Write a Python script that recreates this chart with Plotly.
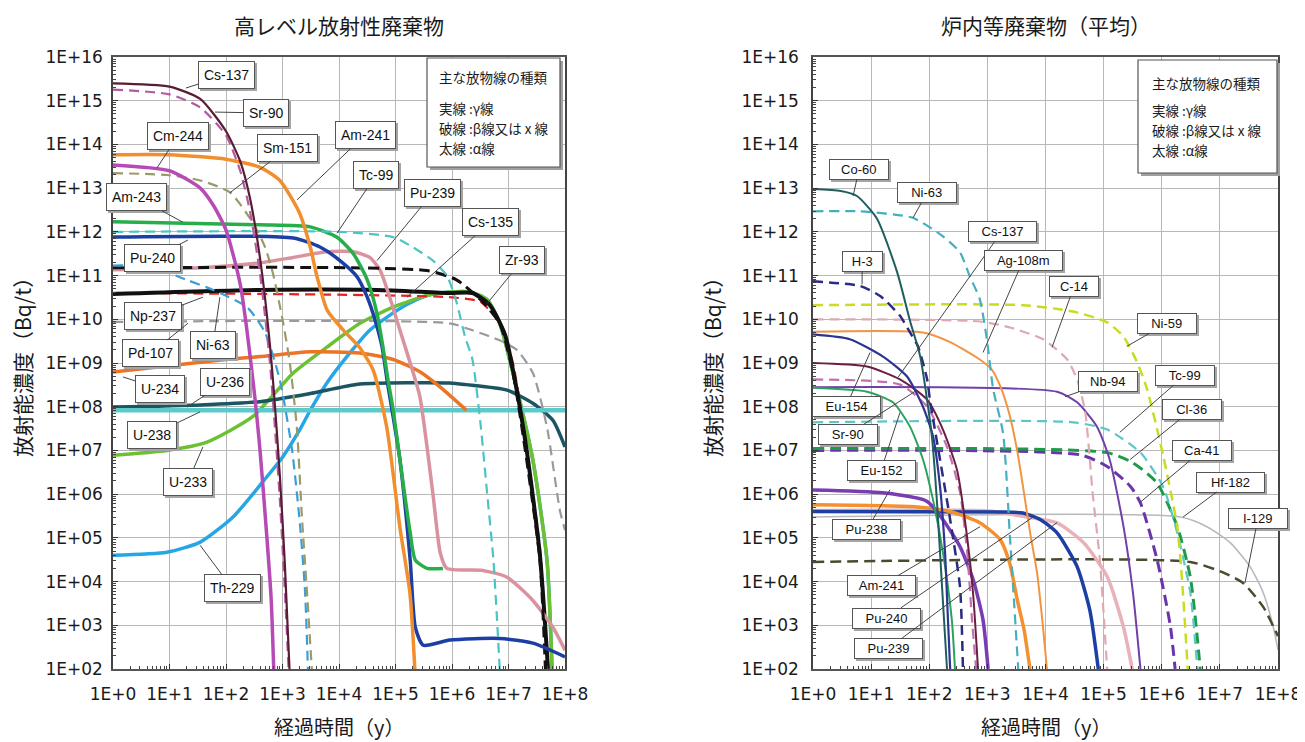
import math
import plotly.graph_objects as go

# ---------------- tick labels ----------------
TICK_Y_VALS = [1e2, 1e3, 1e4, 1e5, 1e6, 1e7, 1e8, 1e9, 1e10, 1e11, 1e12, 1e13, 1e14, 1e15, 1e16]
TICK_Y_TEXT = ["1E+02", "1E+03", "1E+04", "1E+05", "1E+06", "1E+07", "1E+08", "1E+09",
               "1E+10", "1E+11", "1E+12", "1E+13", "1E+14", "1E+15", "1E+16"]
TICK_X_VALS = [1, 1e1, 1e2, 1e3, 1e4, 1e5, 1e6, 1e7, 1e8]
TICK_X_TEXT = ["1E+0", "1E+1", "1E+2", "1E+3", "1E+4", "1E+5", "1E+6", "1E+7", "1E+8"]

TITLE_L = "高レベル放射性廃棄物"
TITLE_R = "炉内等廃棄物（平均）"
X_TITLE = "経過時間（y）"
Y_TITLE = "放射能濃度（Bq/t）"
KEY_LINES = ["主な放物線の種類", "実線 :γ線", "破線 :β線又は x 線", "太線 :α線"]

# ---------------- left panel: high-level waste (years, Bq/t) ----------------
HLW_CS137_T = [1, 10, 35, 100, 180, 265, 400, 600, 900, 1100, 1330]
HLW_CS137_A = [2.5e15, 2.1e15, 1.1e15, 2.0e14, 4.0e13, 6.0e12, 2.5e11, 2.5e9, 2.5e6, 2.5e4, 1e2]
HLW_SR90_T = [1, 10, 35, 100, 180, 265, 400, 600, 900, 1100, 1280]
HLW_SR90_A = [1.8e15, 1.4e15, 7.0e14, 1.6e14, 2.4e13, 3.0e12, 1.1e11, 1.0e9, 7.0e5, 6.0e3, 1e2]
HLW_CM244_T = [1, 10, 35, 60, 100, 180, 300, 400, 530, 630, 700]
HLW_CM244_A = [3.4e13, 2.5e13, 1.0e13, 4.0e12, 1.1e12, 6.0e10, 4.0e8, 1.0e7, 1.0e5, 4.0e3, 1e2]
HLW_AM241_T = [1, 10, 100, 400, 900, 2000, 3100, 4100, 6200, 12000, 23000, 40000, 70000, 120000, 180000, 220000]
HLW_AM241_A = [5.8e13, 5.8e13, 4.6e13, 3.0e13, 1.5e13, 2.7e12, 4.5e11, 9.3e10, 1.6e10, 5.6e9, 2.3e9, 7.0e8, 3.4e7, 1.7e5, 5.4e3, 1e2]
HLW_SM151_T = [1, 9, 35, 118, 300, 490, 680, 1000, 1350, 1800, 2200, 2700, 3300]
HLW_SM151_A = [2.2e13, 2.0e13, 1.5e13, 8.0e12, 1.6e12, 4.5e11, 1.1e11, 1.0e10, 1.0e9, 3.2e7, 3.2e5, 6.3e3, 1e2]
HLW_AM243_T = [1, 400, 3100, 9100, 17800, 31600, 46800, 60000, 74000, 91000, 120000, 182000, 224000, 363000, 690000]
HLW_AM243_A = [1.7e12, 1.45e12, 1.3e12, 7.6e11, 3.2e11, 8.0e10, 1.4e10, 2.3e9, 4.0e8, 8.3e7, 6.0e6, 1.3e5, 3.1e4, 2.0e4, 2.0e4]
HLW_TC99_T = [1, 10400, 91000, 2.0e5, 4.6e5, 8.1e5, 1.2e6, 1.7e6, 2.3e6, 3.2e6, 4.2e6, 5.4e6, 7.0e6]
HLW_TC99_A = [1.0e12, 1.0e12, 7.6e11, 4.5e11, 2.2e11, 1.0e11, 2.5e10, 4.0e9, 1.2e9, 4.0e7, 1.0e6, 3.2e4, 1e2]
HLW_PU240_T = [1, 1550, 4600, 10400, 21000, 31600, 43600, 58000, 71000, 87000, 120000, 182000, 224000, 309000, 912000, 7.0e6, 2.7e7, 1e8]
HLW_PU240_A = [7.6e11, 7.2e11, 4.5e11, 2.2e11, 9.3e10, 3.2e10, 9.5e9, 2.3e9, 4.0e8, 8.3e7, 6.0e6, 3.1e4, 9.0e2, 3.5e2, 4.6e2, 5.0e2, 3.9e2, 1.9e2]
HLW_PU239_T = [1, 35, 400, 1550, 6100, 17800, 35000, 53000, 79000, 120000, 182000, 270000, 460000, 620000, 810000, 3.5e6, 9.4e6, 2.7e7, 6.1e7, 1e8]
HLW_PU239_A = [1.35e11, 1.5e11, 1.95e11, 2.6e11, 3.5e11, 3.5e11, 2.6e11, 1.35e11, 3.2e10, 5.6e9, 1.0e9, 1.7e8, 1.0e6, 4.5e4, 2.0e4, 1.8e4, 1.26e4, 3.7e3, 9.0e2, 2.7e2]
HLW_ZR93_T = [1, 3.6e5, 1.2e6, 3.2e6, 7.0e6, 1.2e7, 2.1e7, 3.6e7, 4.5e7]
HLW_ZR93_A = [1.5e11, 1.3e11, 8.0e10, 2.8e10, 8.0e9, 6.0e8, 6.0e6, 3.1e4, 1e2]
HLW_NP237_T = [1, 400, 47000, 9.0e5, 2.3e6, 4.7e6, 8.7e6, 1.3e7, 2.1e7, 3.6e7, 5.0e7]
HLW_NP237_A = [3.8e10, 4.7e10, 4.7e10, 4.0e10, 4.0e10, 2.1e10, 4.4e9, 4.0e8, 1.0e7, 4.0e4, 1e2]
HLW_CS135_T = [1, 9.0e5, 3.2e6, 7.0e6, 1.2e7, 2.1e7, 3.6e7, 5.0e7]
HLW_CS135_A = [4.0e10, 3.2e10, 2.5e10, 8.0e9, 1.0e9, 1.0e7, 6.0e4, 1e2]
HLW_PD107_T = [1, 9.0e5, 2.3e6, 7.0e6, 1.4e7, 2.7e7, 4.8e7, 8.1e7, 1e8]
HLW_PD107_A = [8.7e9, 8.1e9, 5.6e9, 3.3e9, 2.0e9, 5.9e8, 3.4e7, 4.3e5, 1.5e5]
HLW_NI63_T = [1, 4.5, 20, 59, 235, 490, 900, 1480, 2040, 2500, 2820]
HLW_NI63_A = [1.7e11, 1.6e11, 8.0e10, 4.7e10, 1.9e10, 5.0e9, 4.0e8, 1.0e7, 2.0e5, 6.3e3, 1e2]
HLW_U234_T = [1, 9, 100, 400, 3100, 23000, 91000, 270000, 620000, 1.8e6]
HLW_U234_A = [6.2e8, 8.5e8, 1.2e9, 1.4e9, 1.8e9, 1.7e9, 1.2e9, 6.3e8, 2.8e8, 8.3e7]
HLW_U236_T = [1, 35, 400, 3100, 23500, 9.1e5, 1.8e6, 9.4e6, 2.7e7, 6.1e7, 1e8]
HLW_U236_A = [9.8e7, 1.1e8, 1.3e8, 2.0e8, 3.3e8, 3.5e8, 3.2e8, 2.4e8, 1.2e8, 4.9e7, 1.2e7]
HLW_U238_T = [1, 1e8]
HLW_U238_A = [8.3e7, 8.3e7]
HLW_U233_T = [1, 9, 46, 300, 1550, 6100, 23500, 91000, 3.6e5, 9.1e5, 2.1e6, 4.2e6, 7.0e6, 1.2e7, 2.7e7, 4.8e7, 5.9e7]
HLW_U233_A = [7.8e6, 1.0e7, 1.55e7, 6.0e7, 5.9e8, 2.3e9, 8.1e9, 1.9e10, 3.5e10, 4.2e10, 4.2e10, 2.8e10, 8.1e9, 5.9e8, 6.0e6, 3.1e4, 1e2]
HLW_TH229_T = [1, 9, 35, 133, 530, 1000, 2000, 3100, 6100, 13800, 35000, 91000, 1.5e5, 3.6e5, 9.1e5, 2.1e6, 4.2e6, 7.0e6, 1.2e7, 2.7e7, 4.8e7, 5.9e7]
HLW_TH229_A = [4.0e4, 4.7e4, 8.0e4, 3.0e5, 2.5e6, 7.0e6, 2.9e7, 8.3e7, 3.5e8, 1.4e9, 5.6e9, 1.4e10, 2.1e10, 3.5e10, 4.2e10, 4.2e10, 2.8e10, 8.1e9, 5.9e8, 6.0e6, 3.1e4, 1e2]

# ---------------- right panel: in-core waste (years, Bq/t) ----------------
LLW_CO60_T = [1, 3, 5.7, 12.6, 28, 47, 70, 111, 136, 166, 202]
LLW_CO60_A = [9.5e12, 8.6e12, 6.6e12, 2.0e12, 1.2e11, 8.9e9, 1.4e9, 2.1e7, 6.5e5, 7.6e3, 1e2]
LLW_NI63_T = [1, 6.4, 52, 172, 338, 500, 740, 980, 1260, 1860, 2450, 3400]
LLW_NI63_A = [2.95e12, 2.95e12, 2.1e12, 7.9e11, 3.4e11, 9.5e10, 2.9e10, 3.5e9, 2.5e8, 2.5e7, 1.0e5, 1e2]
LLW_H3_T = [1, 6.4, 14.3, 31.4, 46.6, 64, 92, 103, 229, 338, 380]
LLW_H3_A = [7.4e10, 5.8e10, 3.4e10, 1.2e10, 5.0e9, 2.4e9, 4.2e8, 1.4e8, 2.6e5, 7.6e3, 1e2]
LLW_NI59_T = [1, 4100, 30000, 1.15e5, 2.2e5, 3.7e5, 5.6e5, 1.05e6, 1.85e6, 2.3e6, 2.8e6]
LLW_NI59_A = [2.1e10, 2.1e10, 1.5e10, 8.5e9, 4.0e9, 1.1e9, 2.5e8, 7.9e6, 1.8e5, 6.3e3, 1e2]
LLW_C14_T = [1, 750, 2450, 9100, 23600, 35000, 48000, 65000, 86000, 1.15e5]
LLW_C14_A = [1.0e10, 8.9e9, 6.5e9, 3.5e9, 1.2e9, 4.2e8, 7.9e7, 1.0e6, 3.2e4, 1e2]
LLW_AG108M_T = [1, 78, 229, 740, 1200, 1660, 2450, 3300, 4100, 5500, 7200, 9000, 10600]
LLW_AG108M_A = [5.2e9, 5.0e9, 3.0e9, 1.2e9, 7.0e8, 3.0e8, 6.0e7, 9.0e6, 1.5e6, 1.2e5, 1.5e4, 1.0e3, 1e2]
LLW_EU154_T = [1, 4.3, 16, 41.5, 78, 116, 153, 187, 210, 229]
LLW_EU154_A = [4.5e9, 3.5e9, 1.4e9, 4.9e8, 1.0e8, 2.1e7, 1.5e6, 4.6e4, 1.3e3, 1e2]
LLW_CS137_T = [1, 8.5, 31.4, 92, 172, 300, 450, 570, 690]
LLW_CS137_A = [1.0e9, 8.3e8, 4.2e8, 1.45e8, 3.0e7, 3.6e6, 1.0e5, 5.0e3, 1e2]
LLW_SR90_T = [1, 31.4, 92, 202, 338, 450, 545, 640]
LLW_SR90_A = [4.2e8, 3.2e8, 1.0e8, 1.2e7, 1.1e6, 4.6e4, 1.3e3, 1e2]
LLW_NB94_T = [1, 15800, 35000, 77000, 1.27e5, 2.2e5, 3.2e5, 4.3e5]
LLW_NB94_A = [2.8e8, 2.2e8, 1.26e8, 3.5e7, 6.2e6, 1.8e5, 5.5e3, 1e2]
LLW_EU152_T = [1, 8.5, 23.7, 46.6, 78, 116, 172, 245, 277]
LLW_EU152_A = [2.7e8, 2.2e8, 1.26e8, 3.5e7, 6.2e6, 7.4e5, 4.6e4, 1.3e3, 1e2]
LLW_TC99_T = [1, 30000, 1.15e5, 4.3e5, 1.05e6, 1.85e6, 3.1e6, 4.1e6]
LLW_TC99_A = [4.4e7, 4.4e7, 3.0e7, 8.9e6, 1.5e6, 1.3e5, 5.5e3, 1e2]
LLW_CL36_T = [1, 1.15e5, 3.2e5, 8.3e5, 1.85e6, 3.1e6, 4.6e6]
LLW_CL36_A = [1.1e7, 8.9e6, 5.2e6, 1.8e6, 1.8e5, 1.26e4, 1e2]
LLW_CA41_T = [1, 40000, 1.15e5, 2.9e5, 4.3e5, 8.3e5, 1.4e6, 1.7e6]
LLW_CA41_A = [1.0e7, 7.9e6, 4.3e6, 1.5e6, 6.3e5, 3.2e4, 1.0e3, 1e2]
LLW_PU238_T = [1, 16, 92, 172, 338, 570, 840, 1030]
LLW_PU238_A = [1.25e6, 1.07e6, 6.8e5, 2.6e5, 6.3e4, 1.1e4, 1.35e3, 1e2]
LLW_AM241_T = [1, 62, 229, 750, 1660, 2450, 3240, 4270, 5400]
LLW_AM241_A = [5.7e5, 5.1e5, 4.0e5, 2.2e5, 9.1e4, 2.5e4, 4.0e3, 8.0e2, 1e2]
LLW_PU240_T = [1, 1660, 4100, 8200, 15800, 35000, 58000, 81000]
LLW_PU240_A = [4.0e5, 3.9e5, 3.7e5, 2.6e5, 1.3e5, 2.2e4, 2.2e3, 1e2]
LLW_PU239_T = [1, 1100, 4100, 15800, 45000, 1.15e5, 2.2e5, 3.1e5]
LLW_PU239_A = [4.2e5, 4.1e5, 3.1e5, 2.2e5, 7.8e4, 1.3e4, 9.0e2, 1e2]
LLW_HF182_T = [1, 2.1e6, 6.0e6, 1.5e7, 3.3e7, 5.6e7, 8.3e7, 1e8]
LLW_HF182_A = [3.0e5, 3.0e5, 1.8e5, 7.8e4, 2.2e4, 5.5e3, 9.1e2, 2.75e2]
LLW_I129_T = [1, 3.1e6, 1.15e7, 2.5e7, 5.6e7, 1e8]
LLW_I129_A = [2.8e4, 2.8e4, 1.6e4, 9.3e3, 2.6e3, 5.6e2]

# ---------------- callout labels: nuclide, point (year, Bq/t) ----------------
HLW_LABEL_NAMES = ["Cs-137", "Sr-90", "Cm-244", "Sm-151", "Am-243", "Pu-240", "Np-237", "Pd-107",
                   "Ni-63", "U-234", "U-236", "U-238", "U-233", "Th-229", "Am-241", "Tc-99",
                   "Pu-239", "Cs-135", "Zr-93"]
HLW_LABEL_T = [19.5, 64, 6.0, 117, 17.3, 21.2, 39, 21.2, 78, 1.5, 20.4, 34.7, 39, 34.7, 1810, 9200,
               47000, 1.6e5, 4.2e6]
HLW_LABEL_A = [1.95e15, 5.5e14, 2.9e13, 7.8e12, 1.66e12, 6.5e11, 3.2e10, 8.1e9, 3.2e10, 4.8e8, 9.8e7,
               7.6e7, 1.2e7, 6.8e4, 5.4e12, 9.3e11, 2.2e11, 3.2e10, 2.3e10]
LLW_LABEL_NAMES = ["Co-60", "Ni-63", "H-3", "Cs-137", "Ag-108m", "C-14", "Ni-59", "Nb-94", "Tc-99",
                   "Cl-36", "Ca-41", "Hf-182", "I-129", "Eu-154", "Sr-90", "Eu-152", "Pu-238",
                   "Am-241", "Pu-240", "Pu-239"]
LLW_LABEL_T = [4.9, 52.6, 7.0, 29, 843, 13000, 2.5e5, 21700, 1.9e5, 2.86e5, 4.25e5, 2.33e6, 2.7e7,
               9.6, 57, 31.4, 21.1, 748, 6120, 15800]
LLW_LABEL_A = [6.6e12, 2.1e12, 6.3e10, 4.7e8, 1.74e9, 2.3e9, 2.4e9, 1.7e8, 2.6e7, 6.2e6, 6.5e5, 3.0e5,
               9.3e3, 1.74e9, 2.24e8, 7.4e7, 1.26e6, 1.8e5, 3.0e5, 2.24e5]

# ---------------- styles ----------------
HLW_SERIES = [
    (HLW_TH229_T, HLW_TH229_A, "#27a6e6", 3.5, "solid"),
    (HLW_U233_T, HLW_U233_A, "#6cc133", 3.5, "solid"),
    (HLW_U236_T, HLW_U236_A, "#1c5561", 3.5, "solid"),
    (HLW_U238_T, HLW_U238_A, "#5ccaca", 4.5, "solid"),
    (HLW_U234_T, HLW_U234_A, "#ec7424", 3.5, "solid"),
    (HLW_PD107_T, HLW_PD107_A, "#9a9a9a", 2.2, "10px,6px"),
    (HLW_CS135_T, HLW_CS135_A, "#e52222", 2.2, "10px,6px"),
    (HLW_NP237_T, HLW_NP237_A, "#111111", 4, "solid"),
    (HLW_PU239_T, HLW_PU239_A, "#d9939e", 3.5, "solid"),
    (HLW_ZR93_T, HLW_ZR93_A, "#111111", 3, "11px,6px"),
    (HLW_PU240_T, HLW_PU240_A, "#1c3fa4", 3.5, "solid"),
    (HLW_AM243_T, HLW_AM243_A, "#27ae4a", 3.5, "solid"),
    (HLW_TC99_T, HLW_TC99_A, "#4cc4c4", 2.2, "10px,6px"),
    (HLW_NI63_T, HLW_NI63_A, "#3a9fd6", 2.2, "10px,6px"),
    (HLW_SM151_T, HLW_SM151_A, "#9c9a68", 2.2, "10px,6px"),
    (HLW_AM241_T, HLW_AM241_A, "#f28e2e", 3.5, "solid"),
    (HLW_CM244_T, HLW_CM244_A, "#b64bb6", 3.5, "solid"),
    (HLW_SR90_T, HLW_SR90_A, "#b45a9e", 2.2, "10px,6px"),
    (HLW_CS137_T, HLW_CS137_A, "#5a1c34", 2.2, "solid"),
]
LLW_SERIES = [
    (LLW_HF182_T, LLW_HF182_A, "#b9b9b9", 1.6, "solid"),
    (LLW_I129_T, LLW_I129_A, "#4a4a2e", 2.5, "11px,6px"),
    (LLW_PU239_T, LLW_PU239_A, "#e7b2b9", 3.5, "solid"),
    (LLW_PU240_T, LLW_PU240_A, "#1c3fa4", 3.5, "solid"),
    (LLW_AM241_T, LLW_AM241_A, "#f39030", 3.5, "solid"),
    (LLW_PU238_T, LLW_PU238_A, "#7a3cb2", 3.5, "solid"),
    (LLW_CA41_T, LLW_CA41_A, "#6a35aa", 3, "11px,6px"),
    (LLW_CL36_T, LLW_CL36_A, "#1e9a4a", 3, "11px,6px"),
    (LLW_TC99_T, LLW_TC99_A, "#5cc6c6", 2.2, "10px,6px"),
    (LLW_NB94_T, LLW_NB94_A, "#7040a8", 2, "solid"),
    (LLW_EU152_T, LLW_EU152_A, "#2aa35e", 2, "solid"),
    (LLW_SR90_T, LLW_SR90_A, "#c270b0", 2.2, "10px,6px"),
    (LLW_CS137_T, LLW_CS137_A, "#6b1f40", 2, "solid"),
    (LLW_EU154_T, LLW_EU154_A, "#2d3592", 2.2, "solid"),
    (LLW_AG108M_T, LLW_AG108M_A, "#f39440", 2, "solid"),
    (LLW_C14_T, LLW_C14_A, "#e0a8b0", 2.2, "10px,6px"),
    (LLW_NI59_T, LLW_NI59_A, "#c9dc22", 2.5, "10px,6px"),
    (LLW_H3_T, LLW_H3_A, "#2b2b82", 2.5, "10px,6px"),
    (LLW_NI63_T, LLW_NI63_A, "#45afc0", 2.2, "10px,6px"),
    (LLW_CO60_T, LLW_CO60_A, "#1f5e5e", 2, "solid"),
]
HLW_LABEL_OFF = [(41, -13), (51, 1), (21, -32), (58, -45), (-46, -25), (-35, 18), (-50, 19), (-37, 30),
                 (-7, 48), (37, 12), (38, -25), (-48, 23), (-15, 35), (32, 43), (68, -65), (39, -58),
                 (56, -68), (83, -75), (35, -43)]
LLW_LABEL_OFF = [(6, -27), (14, -25), (0, -23), (104, -146), (40, -92), (22, -61), (40, -23), (43, -15),
                 (65, -57), (62, -50), (62, -52), (47, -35), (13, -64), (-24, 54), (-67, 43), (-19, 58),
                 (-23, 40), (-99, 59), (-147, 101), (-169, 126)]

# page offset of the figure inside the browser (body margin)
PAGE_OFF = 8
W, H = 1305 - PAGE_OFF, 742 - PAGE_OFF
L_X = (113, 565)
R_X = (813, 1278)
Y_PX = (57, 669)

def px2paper(px, py):
    return (px - PAGE_OFF) / W, 1 - (py - PAGE_OFF) / H

fig = go.Figure()

for series, xa, ya in ((HLW_SERIES, "x", "y"), (LLW_SERIES, "x2", "y2")):
    for t, a, col, w, dash in series:
        fig.add_trace(go.Scatter(
            x=t, y=a, mode="lines", xaxis=xa, yaxis=ya, hoverinfo="skip", showlegend=False,
            line=dict(color=col, width=w, dash=dash, shape="spline", smoothing=0.6)))

LABEL_FONT = "Liberation Sans, Arial, sans-serif"
annotations = []
for names, ts, av, offs, xr, yr, fs, pad, wide in (
        (HLW_LABEL_NAMES, HLW_LABEL_T, HLW_LABEL_A, HLW_LABEL_OFF, "x", "y", 14, 5, False),
        (LLW_LABEL_NAMES, LLW_LABEL_T, LLW_LABEL_A, LLW_LABEL_OFF, "x2", "y2", 13, 2, True)):
    for name, t, a, (ox, oy) in zip(names, ts, av, offs):
        bw = (9.5 * len(name) + 6) if wide else None
        annotations.append(dict(
            x=math.log10(t), y=math.log10(a), xref=xr, yref=yr, text=name, width=bw,
            showarrow=True, arrowcolor="rgba(0,0,0,0)", ax=ox + 2, ay=oy + 2,
            font=dict(family=LABEL_FONT, size=fs, color="rgba(0,0,0,0)"),
            bgcolor="#a5a5a5", bordercolor="#a5a5a5", borderwidth=1, borderpad=pad))
        annotations.append(dict(
            x=math.log10(t), y=math.log10(a), xref=xr, yref=yr, text=name, width=bw,
            showarrow=True, arrowhead=0, arrowwidth=1, arrowcolor="#444444", ax=ox, ay=oy,
            font=dict(family=LABEL_FONT, size=fs, color="#111111"),
            bgcolor="white", bordercolor="#555555", borderwidth=1, borderpad=pad))

JP_FONT = "Noto Sans CJK JP"
for text, cx in ((TITLE_L, (L_X[0] + L_X[1]) / 2), (TITLE_R, (R_X[0] + R_X[1]) / 2)):
    x, y = px2paper(cx, 25)
    annotations.append(dict(x=x, y=y, xref="paper", yref="paper", text=text, showarrow=False,
                            xanchor="center", yanchor="middle",
                            font=dict(family=JP_FONT, size=21, color="#1a1a1a")))
    x, y = px2paper(cx, 726)
    annotations.append(dict(x=x, y=y, xref="paper", yref="paper", text=X_TITLE, showarrow=False,
                            xanchor="center", yanchor="middle",
                            font=dict(family=JP_FONT, size=20, color="#1a1a1a")))
for cx in (22, 712):
    x, y = px2paper(cx, 362)
    annotations.append(dict(x=x, y=y, xref="paper", yref="paper", text=Y_TITLE, showarrow=False,
                            xanchor="center", yanchor="middle", textangle=-90,
                            font=dict(family=JP_FONT, size=21, color="#1a1a1a")))

shapes = []
for (x0, y0, x1, y1), tx, rows in (((427, 58, 560, 167), 437, (77, 108, 128, 148)),
                                   ((1138, 60, 1277, 173), 1150, (83, 110, 130, 150))):
    sx0, sy1 = px2paper(x0 + 3, y0 + 3)
    sx1, sy0 = px2paper(x1 + 3, y1 + 3)
    shapes.append(dict(type="rect", xref="paper", yref="paper", x0=sx0, x1=sx1, y0=sy0, y1=sy1,
                       fillcolor="#a0a0a0", line=dict(width=0), layer="above"))
    bx0, by1 = px2paper(x0, y0)
    bx1, by0 = px2paper(x1, y1)
    shapes.append(dict(type="rect", xref="paper", yref="paper", x0=bx0, x1=bx1, y0=by0, y1=by1,
                       fillcolor="white", line=dict(width=1.2, color="#555555"), layer="above"))
    for line, ry in zip(KEY_LINES, rows):
        x, y = px2paper(tx, ry)
        annotations.append(dict(x=x, y=y, xref="paper", yref="paper", text=line, showarrow=False,
                                xanchor="left", yanchor="middle",
                                font=dict(family=JP_FONT, size=13.5, color="#1a1a1a")))

def xaxis(dom, anchor):
    return dict(type="log", range=[0, 8], domain=dom, anchor=anchor, tickmode="array",
                tickvals=TICK_X_VALS, ticktext=TICK_X_TEXT, ticks="inside", ticklen=5,
                tickcolor="#333333", ticklabelstandoff=9, showgrid=True, gridcolor="#b8b8b8",
                gridwidth=1, showline=True, linecolor="#555555", linewidth=1.5, mirror=True,
                zeroline=False, automargin=False,
                tickfont=dict(family="DejaVu Sans", size=17, color="#1a1a1a"),
                minor=dict(ticks="inside", ticklen=3, tickcolor="#444444", dtick="D1", showgrid=False))

def yaxis(dom, anchor, standoff):
    return dict(type="log", range=[2, 16], domain=dom, anchor=anchor, tickmode="array",
                tickvals=TICK_Y_VALS, ticktext=TICK_Y_TEXT, ticks="inside", ticklen=5,
                tickcolor="#333333", ticklabelstandoff=standoff, showgrid=True,
                gridcolor="#b8b8b8", gridwidth=1, showline=True, linecolor="#444444",
                linewidth=1.5, mirror=True, zeroline=False, automargin=False,
                tickfont=dict(family="DejaVu Sans", size=17, color="#1a1a1a"),
                minor=dict(ticks="inside", ticklen=3, tickcolor="#444444", dtick="D1", showgrid=False))

lx0, _ = px2paper(L_X[0], 0)
lx1, _ = px2paper(L_X[1], 0)
rx0, _ = px2paper(R_X[0], 0)
rx1, _ = px2paper(R_X[1], 0)
_, yd0 = px2paper(0, Y_PX[1])
_, yd1 = px2paper(0, Y_PX[0])

fig.update_layout(
    width=W, height=H, margin=dict(l=0, r=0, t=0, b=0, autoexpand=False),
    paper_bgcolor="white", plot_bgcolor="white", showlegend=False,
    xaxis=xaxis([lx0, lx1], "y"),
    yaxis=yaxis([yd0, yd1], "x", 5),
    xaxis2=xaxis([rx0, rx1], "y2"),
    yaxis2=yaxis([yd0, yd1], "x2", 9),
    annotations=annotations, shapes=shapes,
)

fig.write_html("out.html")
